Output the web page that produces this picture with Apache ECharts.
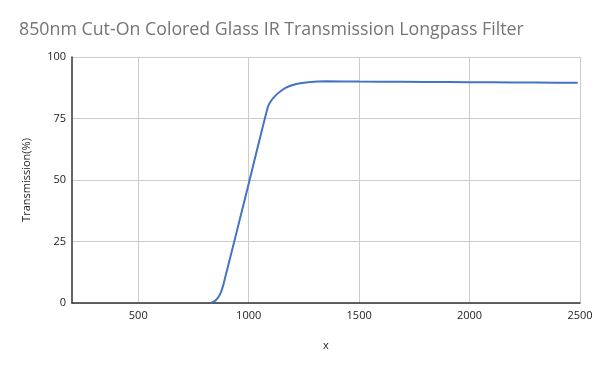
<!DOCTYPE html>
<html>
<head>
<meta charset="utf-8">
<script src="https://cdn.jsdelivr.net/npm/echarts@6/dist/echarts.min.js"></script>
<style>html,body{margin:0;padding:0;background:#fff}#c{width:600px;height:371px}</style>
</head>
<body>
<div id="c"></div>
<script>
const titleText = "850nm Cut-On Colored Glass IR Transmission Longpass Filter";
const wavelengths = [830, 850, 870, 885, 1000, 1086, 1100, 1120, 1150, 1180, 1220, 1270, 1350, 1500, 1700, 1900, 2100, 2300, 2490];
const transmission = [0, 1, 3.5, 7.3, 48.5, 79.5, 82, 84.2, 86.5, 88, 89.1, 89.7, 90.1, 90.0, 89.9, 89.8, 89.7, 89.6, 89.5];
const xTicks = [500, 1000, 1500, 2000, 2500];
const yTicks = [0, 25, 50, 75, 100];

const chart = echarts.init(document.getElementById('c'), null, {renderer: 'canvas'});
chart.setOption({
  animation: false,
  title: {
    text: titleText, left: 14, top: 16,
    textStyle: {fontFamily: 'Open Sans', fontSize: 17.8, fontWeight: 'normal', color: '#757575'}
  },
  grid: {left: 72, right: 20, top: 57, bottom: 68},
  xAxis: {
    type: 'value', min: 200, max: 2500,
    name: 'x', nameLocation: 'middle', nameGap: 37,
    nameTextStyle: {fontFamily: 'Open Sans', fontSize: 11, color: '#222'},
    axisLine: {show: true, lineStyle: {color: '#333', width: 1.5}},
    axisTick: {show: false, customValues: xTicks},
    axisLabel: {customValues: xTicks, formatter: v => String(v), fontFamily: 'Open Sans', fontSize: 11, color: '#222', margin: 7},
    splitLine: {show: true, lineStyle: {color: '#cccccc', width: 1}}
  },
  yAxis: {
    type: 'value', min: 0, max: 100, interval: 25,
    name: 'Transmission(%)', nameLocation: 'middle', nameGap: 40,
    nameTextStyle: {fontFamily: 'Open Sans', fontSize: 11, color: '#222'},
    axisLine: {show: true, lineStyle: {color: '#333', width: 1.5}},
    axisTick: {show: false},
    axisLabel: {customValues: yTicks, formatter: v => String(v), fontFamily: 'Open Sans', fontSize: 11, color: '#222', margin: 6},
    splitLine: {show: true, lineStyle: {color: '#cccccc', width: 1}}
  },
  series: [{
    type: 'line',
    data: wavelengths.map((w, i) => [w, transmission[i]]),
    showSymbol: false,
    smooth: 0.2,
    lineStyle: {color: '#4472c4', width: 2}
  }]
});
</script>
</body>
</html>
